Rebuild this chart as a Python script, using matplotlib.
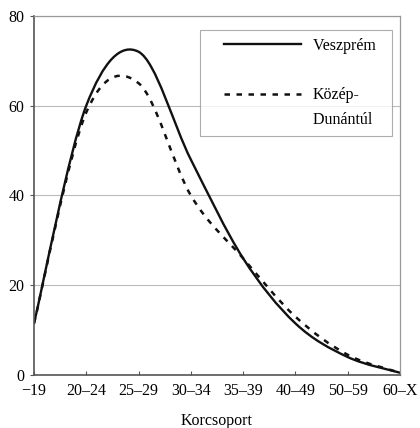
import numpy as np
import matplotlib
matplotlib.use("Agg")
import matplotlib.pyplot as plt
from matplotlib.path import Path
from matplotlib.patches import PathPatch
from matplotlib.lines import Line2D
from matplotlib.legend_handler import HandlerLine2D

plt.rcParams["font.family"] = ["Liberation Serif", "DejaVu Serif"]

categories = ["\u221219", "20\u201324", "25\u201329", "30\u201334", "35\u201339", "40\u201349", "50\u201359", "60\u2013X"]
veszprem = [11.5, 60, 72, 48, 26, 11.5, 4, 0.5]
kozep_dunantul = [11.5, 58.5, 65, 40, 26, 13, 4.5, 0.5]


def smooth_path(xs, ys):
    # Excel-like smoothed line: Catmull-Rom segments as cubic Bezier
    xs = np.asarray(xs, float)
    ys = np.asarray(ys, float)
    pts = np.column_stack([xs, ys])
    n = len(pts)
    verts = [pts[0]]
    codes = [Path.MOVETO]
    for i in range(n - 1):
        p0 = pts[i - 1] if i > 0 else pts[i]
        p1 = pts[i]
        p2 = pts[i + 1]
        p3 = pts[i + 2] if i + 2 < n else pts[i + 1]
        c1 = p1 + (p2 - p0) / 6
        c2 = p2 - (p3 - p1) / 6
        verts += [c1, c2, p2]
        codes += [Path.CURVE4] * 3
    return Path(verts, codes)


fig = plt.figure(figsize=(4.2, 4.28), dpi=100)
ax = fig.add_axes([0.081, 0.124, 0.871, 0.839])

x = np.arange(len(categories))
dash = (0, (2.2, 2.6))

ax.add_patch(PathPatch(smooth_path(x, veszprem), fill=False, color="#111111", lw=1.7,
                       capstyle="round"))
ax.add_patch(PathPatch(smooth_path(x, kozep_dunantul), fill=False, color="#111111", lw=1.8,
                       linestyle=dash))

# legend handles: the two-line label is split so the dashes sit on the first line
ax.plot([], [], color="#111111", lw=1.7, label="Veszprém  ")
ax.plot([], [], color="none", label=" ")
ax.plot([], [], color="#111111", lw=1.8, linestyle=dash, label="Közép-")
ax.plot([], [], color="none", label="Dunántúl  ")

ax.set_xlim(0, len(categories) - 1)
ax.set_ylim(0, 80)
ax.set_xticks(x)
ax.set_xticklabels(categories, fontsize=11.5)
ax.set_yticks([0, 20, 40, 60, 80])
ax.tick_params(axis="y", labelsize=11.5, length=3, color="#555555", pad=4)
ax.tick_params(axis="x", direction="in", length=3, color="#555555", pad=6)
ax.yaxis.grid(True, color="#bbbbbb", lw=0.8)
ax.set_axisbelow(True)

for side in ["top", "right"]:
    ax.spines[side].set_color("#999999")
    ax.spines[side].set_linewidth(0.9)
for side in ["left", "bottom"]:
    ax.spines[side].set_color("#555555")
    ax.spines[side].set_linewidth(1.2)

ax.set_xlabel("Korcsoport", fontsize=11.5, labelpad=10)

leg = ax.legend(loc="upper right", bbox_to_anchor=(0.978, 0.961), borderaxespad=0,
                fontsize=11.5, frameon=True, fancybox=False, edgecolor="#999999",
                handlelength=5.8, labelspacing=0.55, borderpad=0.5, handletextpad=0.75,
                handler_map={Line2D: HandlerLine2D(xpad=1.0)})
leg.get_frame().set_linewidth(0.8)

fig.savefig("out.png", dpi=100)
